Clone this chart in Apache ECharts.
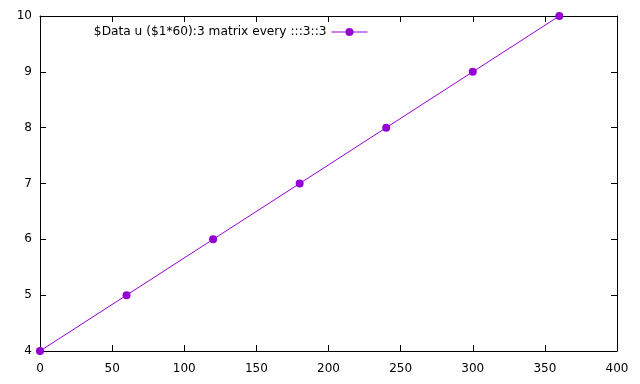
<!DOCTYPE html>
<html><head><meta charset="utf-8">
<script src="https://cdn.jsdelivr.net/npm/echarts@6/dist/echarts.min.js"></script>
<style>html,body{margin:0;padding:0;background:#fff}#c{width:640px;height:384px}</style>
</head><body><div id="c"></div>
<script>
const xValues = [0, 60, 120, 180, 240, 300, 360];
const yValues = [4, 5, 6, 7, 8, 9, 10];
const seriesName = '$Data u ($1*60):3 matrix every :::3::3';
const color = '#9400d3';
const font = 'DejaVu Sans';
const chart = echarts.init(document.getElementById('c'));
const axisBase = {
  axisLine: {show: true, onZero: false, lineStyle: {color: '#000', width: 1}},
  axisTick: {show: true, inside: true, length: 6, lineStyle: {color: '#000'}},
  splitLine: {show: false}
};
chart.setOption({
  animation: false,
  textStyle: {fontFamily: font},
  grid: {left: 40, right: 23, top: 16, bottom: 33},
  legend: {
    data: [seriesName], right: 267, top: 21, align: 'right', itemWidth: 36, itemHeight: 10,
    itemGap: 6,
    lineStyle: {width: 1},
    textStyle: {fontFamily: font, fontSize: 12.2, color: '#000'}
  },
  xAxis: [
    Object.assign({type: 'value', min: 0, max: 400, interval: 50, position: 'bottom',
      axisLabel: {fontFamily: font, fontSize: 12, color: '#000', margin: 12}}, axisBase),
    Object.assign({type: 'value', min: 0, max: 400, interval: 50, position: 'top',
      axisLabel: {show: false}}, axisBase)
  ],
  yAxis: [
    Object.assign({type: 'value', min: 4, max: 10, interval: 1, position: 'left',
      axisLabel: {fontFamily: font, fontSize: 12, color: '#000', margin: 8}}, axisBase),
    Object.assign({type: 'value', min: 4, max: 10, interval: 1, position: 'right',
      axisLabel: {show: false}}, axisBase)
  ],
  series: [{
    name: seriesName, type: 'line', xAxisIndex: 0, yAxisIndex: 0,
    data: xValues.map((x, i) => [x, yValues[i]]),
    symbol: 'circle', symbolSize: 8, showSymbol: true,
    lineStyle: {color: color, width: 1}, itemStyle: {color: color},
    clip: false
  }]
});
</script></body></html>
